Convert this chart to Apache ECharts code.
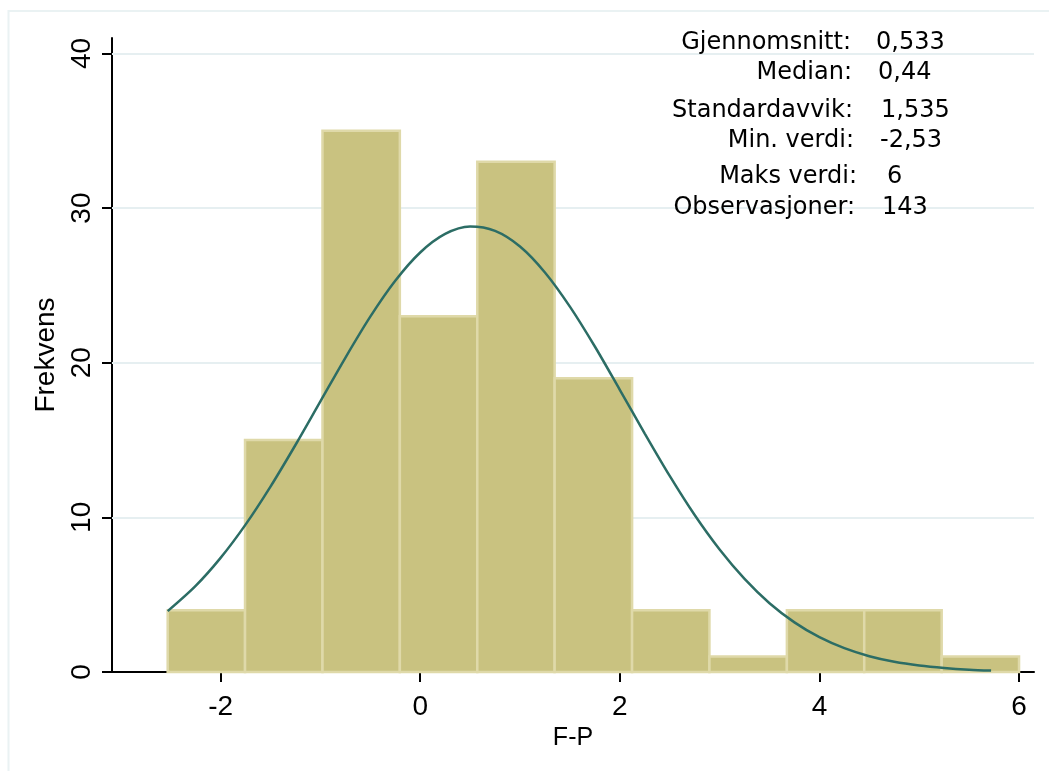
<!DOCTYPE html>
<html>
<head>
<meta charset="utf-8">
<script src="https://cdn.jsdelivr.net/npm/echarts@6/dist/echarts.min.js"></script>
<style>
html,body{margin:0;padding:0;background:#fff;}
#chart{width:1049px;height:771px;}
</style>
</head>
<body>
<div id="chart"></div>
<script>
// Histogram bin edges and counts
var binEdges = [-2.53, -1.755, -0.979, -0.204, 0.572, 1.347, 2.123, 2.898, 3.674, 4.449, 5.225, 6.0];
var binCounts = [4, 15, 35, 23, 33, 19, 4, 1, 4, 4, 1];
// Normal density overlay
var curveX = [-2.53, -2.25, -2.0, -1.75, -1.5, -1.25, -1.0, -0.75, -0.5, -0.25, 0.0, 0.25, 0.5, 0.75, 1.0, 1.25, 1.5, 1.75, 2.0, 2.25, 2.5, 2.75, 3.0, 3.25, 3.5, 3.75, 4.0, 4.25, 4.5, 4.75, 5.0, 5.25, 5.5, 5.72];
var curveY = [3.94, 5.57, 7.38, 9.53, 11.99, 14.68, 17.50, 20.32, 22.98, 25.30, 27.13, 28.33, 28.81, 28.53, 27.52, 25.84, 23.63, 21.05, 18.25, 15.42, 12.68, 10.15, 7.92, 6.02, 4.45, 3.21, 2.25, 1.54, 1.02, 0.66, 0.42, 0.26, 0.15, 0.09];
// Tick values
var xTicks = [-2, 0, 2, 4, 6];
var yTicks = [0, 10, 20, 30, 40];
var gridYLines = [10, 20, 30, 40];
// Stats box
var statLabels = ['Gjennomsnitt:', 'Median:', 'Standardavvik:', 'Min. verdi:', 'Maks verdi:', 'Observasjoner:'];
var statValues = ['0,533', '0,44', '1,535', '-2,53', '6', '143'];

var chart = echarts.init(document.getElementById('chart'), null, {renderer: 'canvas'});

var barData = binCounts.map(function (c, i) { return [binEdges[i], binEdges[i + 1], c]; });
var curveData = curveX.map(function (x, i) { return [x, curveY[i]]; });

var statY = [43, 73, 111, 141, 177, 208];
var statLabelRight = [851, 852, 853, 854, 857, 855];
var statValueLeft = [876, 878, 881, 880, 887, 882];
var graphics = [{
  type: 'rect', shape: {x: 8.5, y: 11, width: 1060, height: 800},
  style: {fill: null, stroke: '#eaf2f3', lineWidth: 2}, silent: true, z: 0
}];
statLabels.forEach(function (t, i) {
  graphics.push({type: 'text', x: statLabelRight[i], y: statY[i], z: 10,
    style: {text: t, fill: '#000', font: '24px "DejaVu Sans"', textAlign: 'right', textVerticalAlign: 'middle'}});
  graphics.push({type: 'text', x: statValueLeft[i], y: statY[i], z: 10,
    style: {text: statValues[i], fill: '#000', font: '24px "DejaVu Sans"', textAlign: 'left', textVerticalAlign: 'middle'}});
});

chart.setOption({
  animation: false,
  backgroundColor: '#fff',
  grid: {left: 112, right: 15, top: 38, bottom: 99, containLabel: false},
  xAxis: {
    type: 'value', min: -3.088, max: 6.15,
    name: 'F-P', nameLocation: 'middle', nameGap: 43,
    nameTextStyle: {fontFamily: 'Liberation Sans', fontSize: 25, color: '#000'},
    axisLine: {show: true, onZero: false, lineStyle: {color: '#000', width: 2}},
    axisTick: {show: true, customValues: xTicks, length: 10, lineStyle: {color: '#000', width: 2}},
    axisLabel: {customValues: xTicks, fontFamily: 'Liberation Sans', fontSize: 28, color: '#000', margin: 21},
    splitLine: {show: false}
  },
  yAxis: {
    type: 'value', min: 0, max: 41,
    name: 'Frekvens', nameLocation: 'middle', nameGap: 51,
    nameTextStyle: {fontFamily: 'Liberation Sans', fontSize: 28, color: '#000'},
    axisLine: {show: true, onZero: false, lineStyle: {color: '#000', width: 2}},
    axisTick: {show: true, customValues: yTicks, length: 10, lineStyle: {color: '#000', width: 2}},
    axisLabel: {customValues: yTicks, rotate: 90, fontFamily: 'Liberation Sans', fontSize: 28, color: '#000', margin: 16},
    splitLine: {show: false}
  },
  graphic: graphics,
  series: [
    {
      type: 'line', data: [], z: 1, silent: true,
      markLine: {
        z: 1, silent: true, symbol: ['none', 'none'], label: {show: false},
        lineStyle: {color: '#e6eff1', width: 2, type: 'solid'},
        data: gridYLines.map(function (v) { return {yAxis: v}; })
      }
    },
    {
      type: 'custom', z: 10, data: barData,
      renderItem: function (params, api) {
        var p0 = api.coord([api.value(0), api.value(2)]);
        var p1 = api.coord([api.value(1), 0]);
        return {
          type: 'rect',
          shape: {x: p0[0], y: p0[1], width: p1[0] - p0[0], height: p1[1] - p0[1]},
          style: {fill: '#c9c280', stroke: '#dfd9a9', lineWidth: 2.5}
        };
      },
      encode: {x: [0, 1], y: 2}
    },
    {
      type: 'line', z: 11, data: curveData, smooth: 0.3, symbol: 'none',
      lineStyle: {color: '#2c6d65', width: 2.5}
    }
  ]
});
</script>
</body>
</html>
